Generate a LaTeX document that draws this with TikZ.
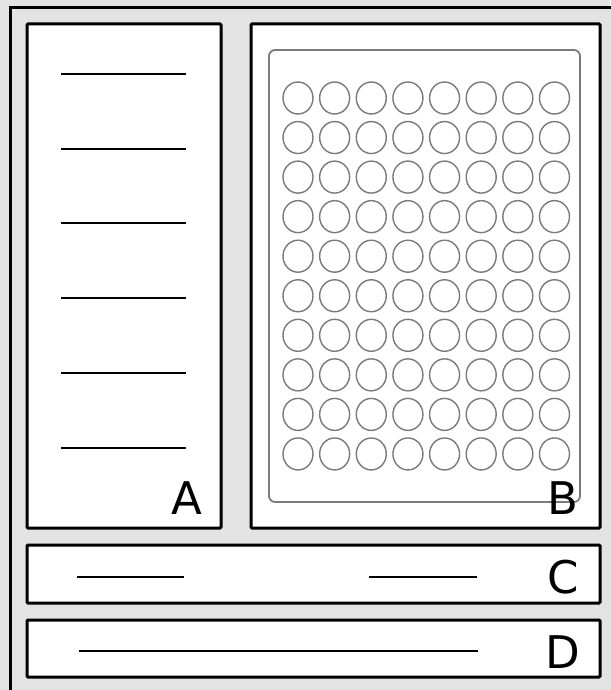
\documentclass[tikz,border=0pt]{standalone}
\usepackage{fontspec}
\setmainfont{DejaVu Sans}
\usetikzlibrary{shapes.geometric}
\begin{document}
\begin{tikzpicture}[x=1pt,y=-1pt,
  panel/.style={draw=black,line width=3pt,fill=white,rounded corners=1pt},
  plate/.style={draw=black!52,line width=1.8pt,fill=white,rounded corners=6pt},
  well/.style={draw=black!52,line width=1.4pt,fill=white,ellipse,minimum width=30pt,minimum height=32pt,inner sep=0pt},
  rule/.style={draw=black,line width=1.5pt},
  lbl/.style={font=\fontsize{45}{45}\selectfont,inner sep=0pt,anchor=center}]
\useasboundingbox (0,0) rectangle (610,690);
\fill[black!11] (0,0) rectangle (610,690);
\draw[line width=3pt,fill=black!11] (10,8) rectangle (630,710);
% Panel A
\draw[panel] (27,24) rectangle (221,528);
\foreach \y/\n in {74/1,149/2,223/3,298/4,373/5,448/6} {
  \coordinate (a\n l) at (61,\y);
  \coordinate (a\n r) at (186,\y);
  \draw[rule] (a\n l) -- (a\n r);
}
\node[lbl] (labA) at (187,498) {A};
% Panel B
\draw[panel] (251,24) rectangle (600,528);
\draw[plate] (269,50) rectangle (580,502);
\foreach \r in {0,...,9} {
  \foreach \c in {0,...,7} {
    \node[well] (w\r\c) at ({298+36.64*\c},{98+39.55*\r}) {};
  }
}
\node[lbl] (labB) at (563,498) {B};
% Panel C
\draw[panel] (27,545) rectangle (600,603);
\coordinate (c1l) at (77,577); \coordinate (c1r) at (184,577);
\coordinate (c2l) at (369,577); \coordinate (c2r) at (477,577);
\draw[rule] (c1l) -- (c1r);
\draw[rule] (c2l) -- (c2r);
\node[lbl] (labC) at (563,577) {C};
% Panel D
\draw[panel] (27,620) rectangle (600,677);
\coordinate (d1l) at (79,651); \coordinate (d1r) at (478,651);
\draw[rule] (d1l) -- (d1r);
\node[lbl] (labD) at (563,652) {D};
\end{tikzpicture}
\end{document}
